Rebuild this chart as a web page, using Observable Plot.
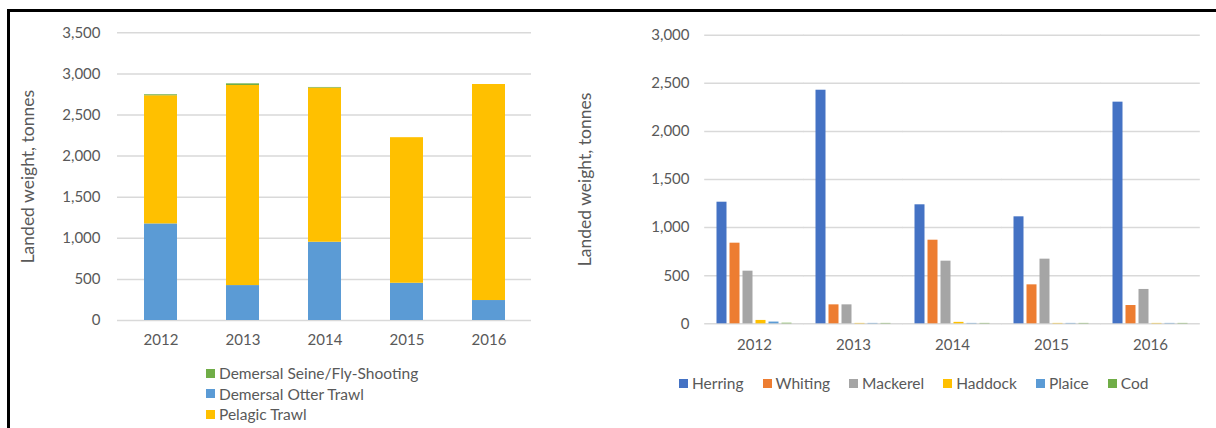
<!DOCTYPE html>
<html>
<head>
<meta charset="utf-8">
<script src="https://cdn.jsdelivr.net/npm/d3@7"></script>
<script src="https://cdn.jsdelivr.net/npm/@observablehq/plot@0.6"></script>
<style>
  html, body { margin: 0; padding: 0; background: #fff; }
  body { width: 1216px; height: 428px; position: relative; overflow: hidden; font-family: Lato, "Open Sans", sans-serif; }
  #frame { position: absolute; left: 7px; top: 9px; width: 1300px; height: 500px; border-top: 3px solid #000; border-left: 3px solid #000; box-sizing: border-box; }
  #left { position: absolute; left: 0; top: 0; }
  #right { position: absolute; left: 560px; top: 0; }
  .legend { position: absolute; color: #595959; font-size: 15.5px; }
  .legend .item { display: flex; align-items: center; white-space: nowrap; }
  .legend .sw { width: 9px; height: 9px; margin-right: 4px; display: inline-block; }
  #legL { left: 206px; top: 363px; }
  #legL .item { height: 20.5px; }
  #legR { left: 679px; top: 374px; display: flex; }
  #legR .item { margin-right: 19px; }
  svg text { fill: #595959; }
</style>
</head>
<body>
<div id="frame"></div>
<div id="left"></div>
<div id="right"></div>
<div class="legend" id="legL"></div>
<div class="legend" id="legR"></div>
<script>
const years = ["2012", "2013", "2014", "2015", "2016"];

// Left chart: landings by gear type (tonnes)
const gears = ["Demersal Otter Trawl", "Pelagic Trawl", "Demersal Seine/Fly-Shooting"];
const gearLegendOrder = ["Demersal Seine/Fly-Shooting", "Demersal Otter Trawl", "Pelagic Trawl"];
const otterTrawl = [1175, 425, 952, 453, 243];
const pelagicTrawl = [1559, 2434, 1875, 1771, 2628];
const seineFlyShooting = [12, 20, 8, 0, 0];
const gearColors = ["#5B9BD5", "#FFC000", "#70AD47"];
const leftTicks = [0, 500, 1000, 1500, 2000, 2500, 3000, 3500];

// Right chart: landings by species (tonnes)
const species = ["Herring", "Whiting", "Mackerel", "Haddock", "Plaice", "Cod"];
const herring = [1264, 2428, 1237, 1112, 2304];
const whiting = [838, 197, 869, 405, 190];
const mackerel = [547, 197, 651, 672, 357];
const haddock = [35, 4, 15, 4, 4];
const plaice = [18, 4, 4, 4, 4];
const cod = [6, 4, 4, 4, 4];
const speciesColors = ["#4472C4", "#ED7D31", "#A5A5A5", "#FFC000", "#5B9BD5", "#70AD47"];
const rightTicks = [0, 500, 1000, 1500, 2000, 2500, 3000];

const fmt = d3.format(",");
const font = "Lato, 'Open Sans', sans-serif";

const gearSeries = [otterTrawl, pelagicTrawl, seineFlyShooting];
const gearData = [];
gears.forEach((g, gi) => years.forEach((y, yi) => gearData.push({year: y, gear: g, value: gearSeries[gi][yi]})));

const left = Plot.plot({
  width: 560, height: 360,
  marginLeft: 117, marginRight: 29, marginTop: 32.3, marginBottom: 40,
  style: {fontFamily: font, fontSize: "15px", color: "#595959", background: "transparent"},
  x: {domain: years, paddingInner: 0.6, paddingOuter: 0.3, label: null},
  y: {domain: [0, 3500], label: null},
  color: {domain: gears, range: gearColors},
  marks: [
    Plot.ruleY(leftTicks, {stroke: "#d9d9d9", strokeWidth: 1.5}),
    Plot.barY(gearData, Plot.stackY({x: "year", y: "value", fill: "gear", order: gears})),
    Plot.axisX({tickSize: 0, tickPadding: 14, label: null, fontSize: 15}),
    Plot.axisY({ticks: leftTicks, tickFormat: fmt, tickSize: 0, tickPadding: 17, fontSize: 15, label: null}),
    Plot.axisY({ticks: [], tickSize: 0, fontSize: 17.5,
      label: "Landed weight, tonnes", labelAnchor: "center", labelArrow: "none", labelOffset: 96})
  ]
});
document.getElementById("left").appendChild(left);

const speciesSeries = [herring, whiting, mackerel, haddock, plaice, cod];
const speciesData = [];
years.forEach((y, yi) => species.forEach((s, si) => speciesData.push({year: y, species: s, value: speciesSeries[si][yi]})));

const right = Plot.plot({
  width: 656, height: 360,
  marginLeft: 143.5, marginRight: 15, marginTop: 34.7, marginBottom: 36.7,
  style: {fontFamily: font, fontSize: "15px", color: "#595959", background: "transparent"},
  fx: {domain: years, paddingInner: 0.236, paddingOuter: 0.118, label: null, axis: "bottom", tickSize: 0, tickPadding: 16},
  x: {domain: species, paddingInner: 0.2, paddingOuter: 0, axis: null},
  y: {domain: [0, 3000], label: null, axis: null},
  color: {domain: species, range: speciesColors},
  marks: [
    Plot.ruleY(rightTicks, {stroke: "#d9d9d9", strokeWidth: 1.5, insetLeft: -11.8, insetRight: -11.8}),
    Plot.barY(speciesData, {fx: "year", x: "species", y: "value", fill: "species"}),
    Plot.axisY({ticks: rightTicks, tickFormat: fmt, tickSize: 0, tickPadding: 27, fontSize: 15, label: null}),
    Plot.axisY({ticks: [], tickSize: 0, fontSize: 17.5,
      label: "Landed weight, tonnes", labelAnchor: "center", labelArrow: "none", labelOffset: 138})
  ]
});
document.getElementById("right").appendChild(right);

function legend(el, names, colors) {
  names.forEach((n) => {
    const item = document.createElement("div");
    item.className = "item";
    const sw = document.createElement("span");
    sw.className = "sw";
    sw.style.background = colors[n];
    item.appendChild(sw);
    item.appendChild(document.createTextNode(n));
    el.appendChild(item);
  });
}
const gearColorMap = Object.fromEntries(gears.map((g, i) => [g, gearColors[i]]));
legend(document.getElementById("legL"), gearLegendOrder, gearColorMap);
const spColorMap = Object.fromEntries(species.map((s, i) => [s, speciesColors[i]]));
legend(document.getElementById("legR"), species, spColorMap);
</script>
</body>
</html>
